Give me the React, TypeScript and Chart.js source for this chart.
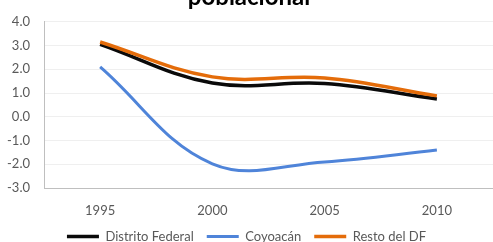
import React, { useEffect, useRef } from "react";
import { Chart, registerables } from "chart.js";

Chart.register(...registerables);

const years = ["1995", "2000", "2005", "2010"];
const distritoFederal = [3.05, 1.42, 1.4, 0.75];
const coyoacan = [2.1, -1.98, -1.9, -1.4];
const restoDF = [3.15, 1.68, 1.63, 0.88];
const yTicks = [-3, -2, -1, 0, 1, 2, 3, 4];
const titleText = "poblacional";

const FONT = "Lato, 'Liberation Sans', sans-serif";
const W = 493;
const H = 253;

const titlePlugin = {
  id: "cutTitle",
  afterDraw(chart: any) {
    const ctx = chart.ctx;
    ctx.save();
    ctx.font = `bold 24px ${FONT}`;
    ctx.fillStyle = "#000000";
    ctx.textAlign = "center";
    ctx.textBaseline = "alphabetic";
    ctx.fillText(titleText, 249, 5);
    ctx.restore();
  },
};

export default function App() {
  const ref = useRef<HTMLCanvasElement>(null);
  useEffect(() => {
    if (!ref.current) return;
    const chart = new Chart(ref.current, {
      type: "line",
      data: {
        labels: years,
        datasets: [
          {
            label: "Distrito Federal",
            data: distritoFederal,
            borderColor: "#0a0a0a",
            backgroundColor: "#0a0a0a",
            borderWidth: 3.5,
            pointRadius: 0,
            pointStyle: "line",
            tension: 0.38,
            order: 1,
          },
          {
            label: "Coyoacán",
            data: coyoacan,
            borderColor: "#4f84d9",
            backgroundColor: "#4f84d9",
            borderWidth: 3,
            pointRadius: 0,
            pointStyle: "line",
            tension: 0.38,
            order: 2,
          },
          {
            label: "Resto del DF",
            data: restoDF,
            borderColor: "#e46c0a",
            backgroundColor: "#e46c0a",
            borderWidth: 3.5,
            pointRadius: 0,
            pointStyle: "line",
            tension: 0.38,
            order: 0,
          },
        ],
      },
      options: {
        animation: false,
        responsive: false,
        maintainAspectRatio: false,
        devicePixelRatio: 1,
        layout: { padding: { top: 16.7, left: 0, right: 0, bottom: 0 } },
        plugins: {
          title: { display: false },
          tooltip: { enabled: false },
          legend: {
            position: "bottom",
            labels: {
              usePointStyle: true,
              pointStyleWidth: 32,
              boxHeight: 4,
              padding: 13,
              color: "#595959",
              font: { family: FONT, size: 13 },
              sort: (a: any, b: any) => a.datasetIndex - b.datasetIndex,
            },
          },
        },
        scales: {
          x: {
            offset: true,
            grid: { display: false, drawTicks: false },
            border: { display: true, color: "#bfbfbf", width: 1 },
            ticks: {
              color: "#595959",
              padding: 15,
              font: { family: FONT, size: 13 },
              maxRotation: 0,
            },
            afterFit: (s: any) => {
              s.height = 29;
            },
          },
          y: {
            min: -3,
            max: 4,
            afterBuildTicks: (s: any) => {
              s.ticks = yTicks.map((v) => ({ value: v }));
            },
            grid: {
              drawTicks: false,
              color: (c: any) => (c.tick && c.tick.value === -3 ? "rgba(0,0,0,0)" : "#efefef"),
            },
            border: { display: true, color: "#bfbfbf", width: 1 },
            ticks: {
              color: "#595959",
              padding: 14,
              font: { family: FONT, size: 13 },
              callback: (v: any) => Number(v).toFixed(1),
            },
            afterFit: (s: any) => {
              s.width = 44;
            },
          },
        },
      },
      plugins: [titlePlugin],
    });
    return () => chart.destroy();
  }, []);
  return (
    <div style={{ position: "absolute", left: 0, top: 0, width: W, height: H }}>
      <canvas ref={ref} width={W} height={H} style={{ width: W, height: H, display: "block" }} />
    </div>
  );
}
